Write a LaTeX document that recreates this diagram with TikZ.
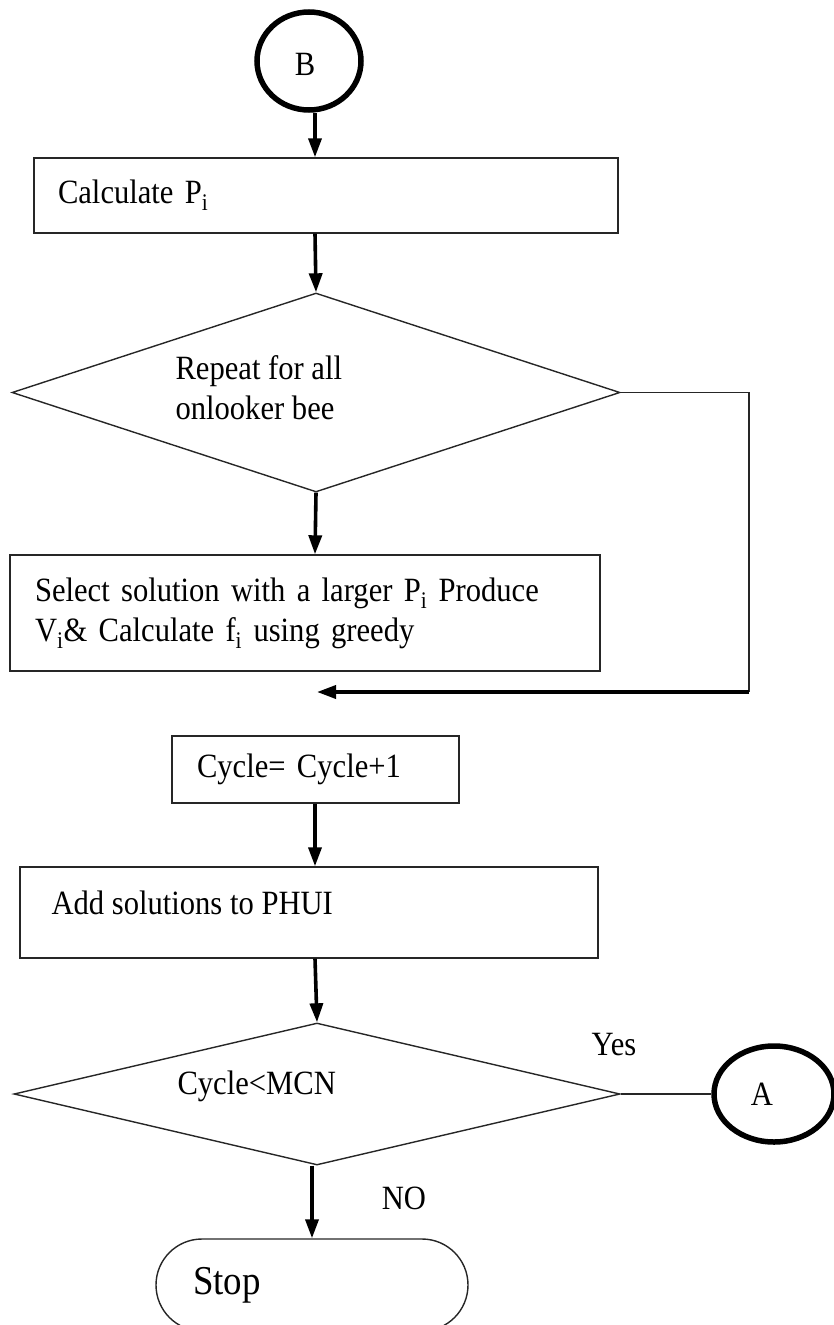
\documentclass[tikz,border=0pt]{standalone}
\usepackage{fontspec}
\setmainfont{Liberation Serif}[FakeStretch=0.9]
\usetikzlibrary{arrows.meta,shapes.geometric}

\tikzset{
  txt/.style={font=\fontsize{34}{40}\selectfont},
  procbox/.style={draw=black!85, line width=1.4pt, rectangle, inner sep=0pt, txt,
                  align=left, anchor=center},
  decision/.style={draw=black!85, line width=1.4pt, diamond, inner sep=0pt},
  connector/.style={draw=black, line width=5.5pt, ellipse, inner sep=0pt, txt},
  terminal/.style={draw=black!85, line width=1.4pt, rectangle, rounded corners=46pt,
                   inner sep=0pt, font=\fontsize{41}{46}\selectfont, align=left},
  flow/.style={line width=3.6pt, -{Triangle[width=13pt,length=19pt]}},
  plain/.style={draw=black!85, line width=1.4pt},
}

\begin{document}
\begin{tikzpicture}[x=1pt,y=-1pt]
\useasboundingbox (0,0) rectangle (834,1325);
\clip (0,0) rectangle (834,1325);

% main flow axis
\coordinate (ax) at (315,0);

% connector B
\node[connector, minimum width=104pt, minimum height=98pt] (B) at (309,61) {};
\node[txt] (Blbl) at (305,64) {B};

% Calculate P_i
\node[procbox, minimum width=584pt, minimum height=75pt,
      text width=536pt] (calc) at (326,195.5) {Calculate P\textsubscript{i}};

% onlooker loop decision
\node[decision, minimum width=608pt, minimum height=199pt] (rep) at (316,392.5) {};
\node[txt, anchor=west, align=left] (replbl) at (172,388) {Repeat for all\\onlooker bee};

% selection box
\node[procbox, minimum width=590pt, minimum height=116pt,
      text width=540pt] (sel) at (305,613)
  {Select solution with a larger P\textsubscript{i} Produce\\V\textsubscript{i}\& Calculate f\textsubscript{i} using greedy};

% cycle counter
\node[procbox, minimum width=287pt, minimum height=67pt,
      text width=237pt] (cyc) at (315.5,769.5) {Cycle= Cycle+1};

% add to PHUI
\node[procbox, minimum width=578pt, minimum height=91pt,
      text width=514pt] (add) at (309,912.5) {};
\node[txt, anchor=west] (addlbl) at (48,903) {Add solutions to PHUI};

% termination decision
\node[decision, minimum width=606pt, minimum height=142pt] (mcn) at (317,1094) {};
\node[txt, anchor=west] (mcnlbl) at (174,1086) {Cycle<MCN};

% connector A
\node[connector, minimum width=120pt, minimum height=96pt] (A) at (774,1094) {};
\node[txt] (Albl) at (762,1094) {A};

% stop terminal
\node[terminal, minimum width=312pt, minimum height=92pt,
      text width=238pt] (stop) at (312,1285) {Stop};

% branch labels
\node[txt] (yes) at (614,1045) {Yes};
\node[txt] (no) at (404,1198) {NO};

% loop return corner points
\coordinate (loopc) at (749,692);
\coordinate (loopend) at (317,692);

% connectors
\draw[flow] (B.south -| ax) -- (calc.north -| ax);
\draw[flow] (calc.south -| ax) -- (rep.north);
\draw[flow] (rep.south) -- (sel.north -| ax);
\draw[plain] (rep.east) -| (loopc);
\draw[flow] (loopc) -- (loopend);
\draw[flow] (cyc.south -| ax) -- (add.north -| ax);
\draw[flow] (add.south -| ax) -- (mcn.north);
\draw[plain] (mcn.east) -- (A.west);
\draw[flow] (mcn.south -| stop.north) -- (stop.north);
\end{tikzpicture}
\end{document}
